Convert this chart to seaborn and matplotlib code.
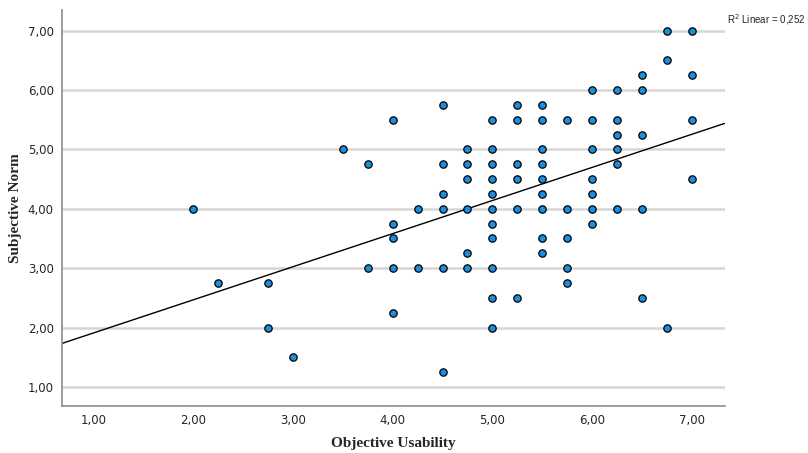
import numpy as np
import pandas as pd
import matplotlib.pyplot as plt
import seaborn as sns

# points, grouped by x value
x_vals = [2.00, 2.25, 2.75, 3.00, 3.50, 3.75, 4.00, 4.25, 4.50, 4.75,
          5.00, 5.25, 5.50, 5.75, 6.00, 6.25, 6.50, 6.75, 7.00]
y_groups = [
    [4.00],
    [2.75],
    [2.75, 2.00],
    [1.50],
    [5.00],
    [4.75, 3.00],
    [5.50, 3.75, 3.50, 3.00, 2.25],
    [4.00, 3.00],
    [5.75, 4.75, 4.25, 4.00, 3.00, 1.25],
    [5.00, 4.75, 4.50, 4.00, 3.25, 3.00],
    [5.50, 5.00, 4.75, 4.50, 4.25, 4.00, 3.75, 3.50, 3.00, 2.50, 2.00],
    [5.75, 5.50, 4.75, 4.50, 4.00, 2.50],
    [5.75, 5.50, 5.00, 4.75, 4.50, 4.25, 4.00, 3.50, 3.25],
    [5.50, 4.00, 3.50, 3.00, 2.75],
    [6.00, 5.50, 5.00, 4.50, 4.25, 4.00, 3.75],
    [6.00, 5.50, 5.25, 5.00, 4.75, 4.00],
    [6.25, 6.00, 5.25, 4.00, 2.50],
    [7.00, 6.50, 2.00],
    [7.00, 6.25, 5.50, 4.50],
]
x_ticks = [1, 2, 3, 4, 5, 6, 7]
y_ticks = [1, 2, 3, 4, 5, 6, 7]
r2_label = "R$^2$ Linear = 0,252"

usab = []
norm = []
for xv, ys in zip(x_vals, y_groups):
    for yv in ys:
        usab.append(xv)
        norm.append(yv)
df = pd.DataFrame({"Objective Usability": usab, "Subjective Norm": norm})

sns.set_style("white")
fig = plt.figure(figsize=(8.08, 4.53), dpi=100)
ax = fig.add_axes([0.0767, 0.104, 0.82, 0.874])
ax.set_xlim(0.68, 7.33)
ax.set_ylim(0.68, 7.35)

for yt in y_ticks:
    ax.axhline(yt, color="#d6d6d6", lw=1.8, zorder=0)

sns.regplot(data=df, x="Objective Usability", y="Subjective Norm", ax=ax,
            ci=None, truncate=False,
            scatter_kws=dict(s=28, color="#1a8ee0", edgecolor="black",
                             linewidths=0.9, alpha=1, zorder=3),
            line_kws=dict(color="black", lw=1.0, zorder=2))

ax.set_xticks(x_ticks)
ax.set_yticks(y_ticks)
tick_font = ["Liberation Sans Narrow", "DejaVu Sans"]
ax.set_xticklabels([f"{t:.2f}".replace(".", ",") for t in x_ticks],
                   family=tick_font, fontsize=8.5)
ax.set_yticklabels([f"{t:.2f}".replace(".", ",") for t in y_ticks],
                   family=tick_font, fontsize=8.5)
ax.tick_params(length=0, pad=6)

for s in ["top", "right"]:
    ax.spines[s].set_visible(False)
for s in ["left", "bottom"]:
    ax.spines[s].set_color("#8c8c8c")
    ax.spines[s].set_linewidth(1.2)

ax.set_xlabel("Objective Usability", family="Liberation Serif",
              fontweight="bold", fontsize=11, labelpad=7)
ax.set_ylabel("Subjective Norm", family="Liberation Serif",
              fontweight="bold", fontsize=11, labelpad=4)

fig.text(0.9, 0.957, r2_label, fontsize=7, family="Liberation Sans",
         ha="left", va="center")

fig.savefig("out.png", dpi=100)
